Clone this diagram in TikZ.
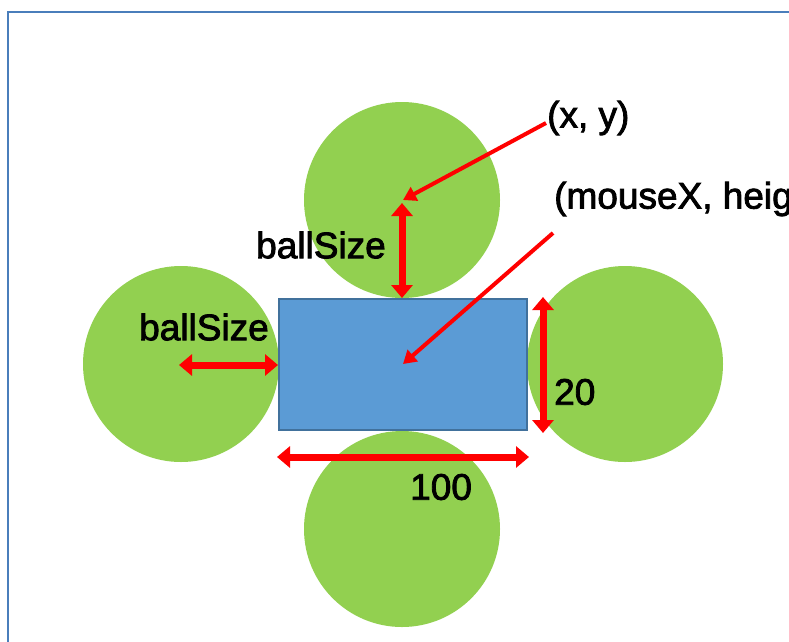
\documentclass[tikz,border=0pt]{standalone}
\usepackage{fontspec}
\setmainfont{Liberation Sans}
\newfontfamily\lblfont{Liberation Sans}[FakeBold=2.2]
\usetikzlibrary{arrows.meta}
\definecolor{ballgreen}{HTML}{92D050}
\definecolor{rectblue}{HTML}{5B9BD5}
\definecolor{rectedge}{HTML}{41719C}
\definecolor{frameblue}{HTML}{4A7EBB}
\tikzset{
  ball/.style={circle, fill=ballgreen, draw=none, minimum size=196pt, inner sep=0pt},
  dimarrow/.style={red, line width=7pt, {Triangle[width=21pt,length=13pt]}-{Triangle[width=21pt,length=13pt]}},
  pointer/.style={red, line width=4pt, -{Triangle[width=15pt,length=13pt]}},
  lbl/.style={font=\lblfont\fontsize{37}{42}\selectfont, inner sep=0pt, text=black},
}
\begin{document}
\begin{tikzpicture}[x=1pt,y=-1pt]
\useasboundingbox (0,0) rectangle (789,641);
\clip (0,0) rectangle (789,641);
\fill[white] (0,0) rectangle (789,641);
\draw[frameblue, line width=2pt] (8,900) -- (8,12) -- (1000,12);
% balls
\node[ball] (top) at (402,200) {};
\node[ball] (left) at (181,364) {};
\node[ball] (right) at (625,364) {};
\node[ball] (bottom) at (402,529) {};
% paddle
\node[draw=rectedge, fill=rectblue, line width=1.2pt, minimum width=248pt, minimum height=131pt, inner sep=0pt] (paddle) at (403,364.5) {};
% dimension coordinates
\coordinate (t1) at (402,203);
\coordinate (t2) at (402,298);
\coordinate (l1) at (179,365);
\coordinate (l2) at (278,365);
\coordinate (r1) at (543,297);
\coordinate (r2) at (543,433);
\coordinate (b1) at (277,457);
\coordinate (b2) at (529,457);
\draw[dimarrow] (t1) -- (t2);
\draw[dimarrow] (l1) -- (l2);
\draw[dimarrow] (r1) -- (r2);
\draw[dimarrow] (b1) -- (b2);
% labels
\node[lbl, anchor=west] (xy) at (547,118) {(x, y)};
\node[lbl, anchor=west] (mouse) at (554,199) {(mouseX, height-20)};
\node[lbl, anchor=west] (bs1) at (256,245) {ballSize};
\node[lbl, anchor=west] (bs2) at (139,327) {ballSize};
\node[lbl, anchor=west] (h20) at (554,392) {20};
\node[lbl, anchor=west] (w100) at (410,487) {100};
% pointers
\coordinate (p1s) at (546,123);
\coordinate (p1e) at (403,200);
\coordinate (p2s) at (553,233);
\coordinate (p2e) at (403,364);
\draw[pointer] (p1s) -- (p1e);
\draw[pointer] (p2s) -- (p2e);
\end{tikzpicture}
\end{document}
